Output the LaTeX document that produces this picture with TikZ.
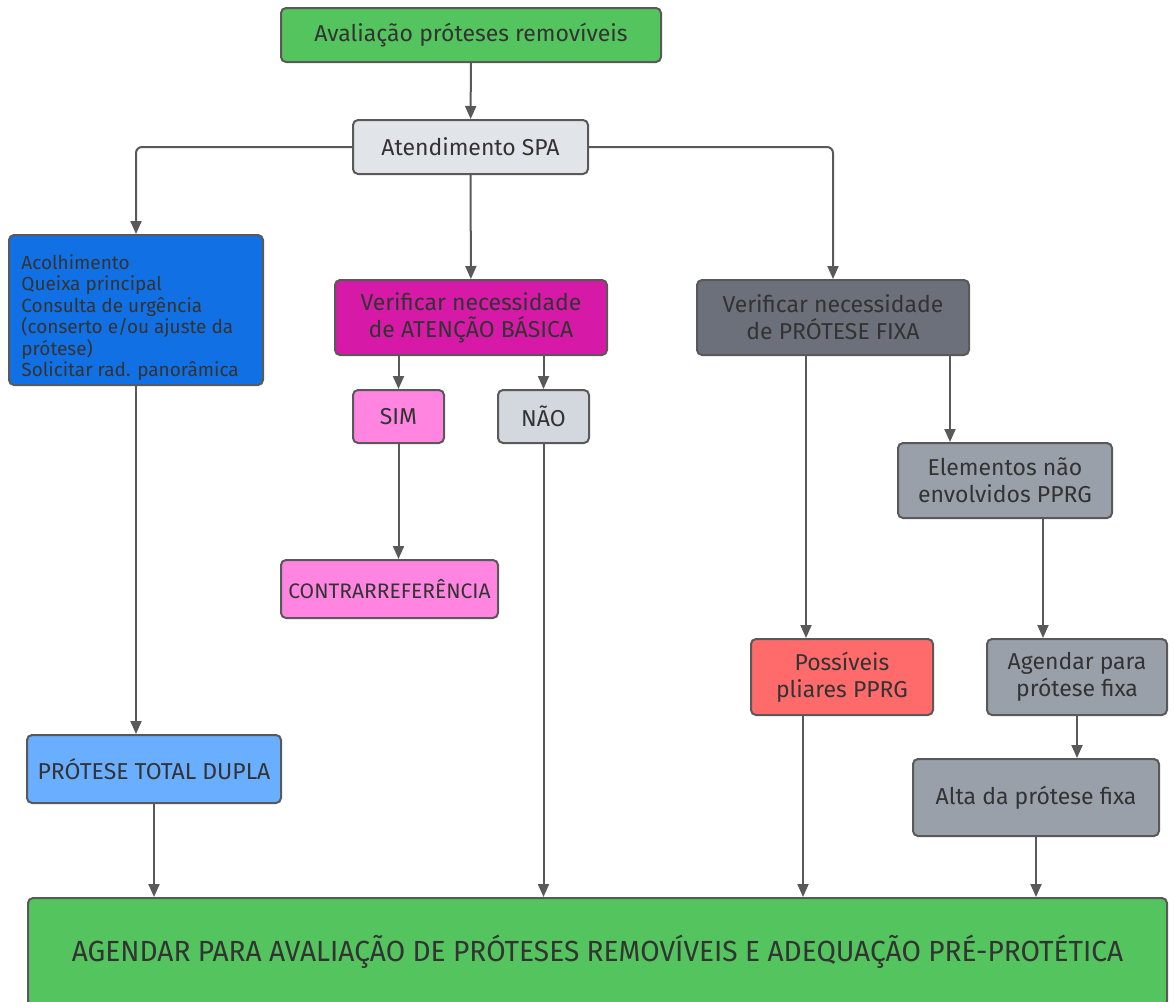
\documentclass[tikz,border=0pt]{standalone}
\usepackage{fontspec}
\setmainfont{Fira Sans}
\usepackage{tikz}
\usetikzlibrary{arrows.meta,calc}

\definecolor{linegray}{HTML}{595959}
\definecolor{txtgray}{HTML}{333333}
\definecolor{boxgreen}{HTML}{54C45E}
\definecolor{spagray}{HTML}{E1E4E9}
\definecolor{boxblue}{HTML}{1170E4}
\definecolor{boxmag}{HTML}{D61AA7}
\definecolor{darkgray}{HTML}{6B707B}
\definecolor{boxpink}{HTML}{FF85E0}
\definecolor{naogray}{HTML}{D3D7DE}
\definecolor{midgray}{HTML}{9AA0AA}
\definecolor{boxred}{HTML}{FF6B6B}
\definecolor{lightblue}{HTML}{6AAEFF}

\begin{document}
\begin{tikzpicture}[x=0.5pt,y=-0.5pt,
		box/.style={draw=linegray,line width=1pt,rounded corners=2.5pt,
			text=txtgray,align=center,inner sep=2pt,
			font=\fontsize{11.5}{13.5}\selectfont},
		arr/.style={draw=linegray,line width=1pt,
			-{Triangle[length=6.5pt,width=5.5pt]}}]
		\useasboundingbox (0,0) rectangle (1174,1002);
		\node[box,fill=boxgreen,minimum width=190pt,minimum height=27pt](top)at(471,35){Avaliação próteses removíveis};
		\node[box,fill=spagray,minimum width=117.5pt,minimum height=27pt](spa)at(470.5,147){Atendimento SPA};
		\node[box,fill=boxblue,minimum width=127pt,minimum height=75pt](ac)at(136,310){};
		\node[anchor=north west,align=left,text=txtgray,inner sep=0pt,
			font=\fontsize{9.5}{10.75}\selectfont](actxt)at(21,254){Acolhimento\\Queixa principal\\Consulta de urgência\\(conserto e/ou ajuste da\\prótese)\\Solicitar rad. panorâmica};
		\node[box,fill=boxmag,minimum width=136pt,minimum height=37.5pt](ab)at(471,317.5){Verificar necessidade\\de ATENÇÃO BÁSICA};
		\node[box,fill=darkgray,minimum width=136pt,minimum height=37.5pt](pf)at(833,317.5){Verificar necessidade\\de PRÓTESE FIXA};
		\node[box,fill=boxpink,minimum width=45.5pt,minimum height=26.5pt](sim)at(398.5,416.5){SIM};
		\node[box,fill=naogray,minimum width=45.5pt,minimum height=26.5pt](nao)at(543.5,416.5){NÃO};
		\node[box,fill=boxpink,minimum width=108.5pt,minimum height=29pt,
			font=\fontsize{10.5}{13}\selectfont](cr)at(389.5,589){CONTRARREFERÊNCIA};
		\node[box,fill=midgray,minimum width=107pt,minimum height=37.5pt](el)at(1005,480.5){Elementos não\\envolvidos PPRG};
		\node[box,fill=boxred,minimum width=91pt,minimum height=38pt](pos)at(842,677){Possíveis\\pliares PPRG};
		\node[box,fill=midgray,minimum width=90pt,minimum height=38pt](ag)at(1077,677){Agendar para\\prótese fixa};
		\node[box,fill=midgray,minimum width=123pt,minimum height=38.5pt](al)at(1036,797.5){Alta da prótese fixa};
		\node[box,fill=lightblue,minimum width=127pt,minimum height=34pt](ptd)at(154,769){PRÓTESE TOTAL DUPLA};
		\node[box,fill=boxgreen,minimum width=569.5pt,minimum height=54pt,
			font=\fontsize{13}{15}\selectfont](bot)at(597.5,952){\scalebox{1.08}[1.12]{AGENDAR PARA AVALIAÇÃO DE PRÓTESES REMOVÍVEIS E ADEQUAÇÃO PRÉ-PROTÉTICA}};

		\draw[arr](top)--(spa);
		\draw[arr,rounded corners=3pt](spa.west)-|(ac.north);
		\draw[arr](spa)--(ab);
		\draw[arr,rounded corners=3pt](spa.east)-|(pf.north);
		\draw[arr](ab.south-|sim.north)--(sim.north);
		\draw[arr](ab.south-|nao.north)--(nao.north);
		\draw[arr](sim.south)--(sim.south|-cr.north);
		\draw[arr](nao.south)--(nao.south|-bot.north);
		\draw[arr](ac.south)--(ac.south|-ptd.north);
		\draw[arr](ptd.south)--(ptd.south|-bot.north);
		\draw[arr]([xshift=-13.5pt]pf.south)--([xshift=-13.5pt]pf.south|-pos.north);
		\draw[arr]([xshift=-19.5pt]pos.south)--([xshift=-19.5pt]pos.south|-bot.north);
		\draw[arr]([xshift=58.5pt]pf.south)--([xshift=58.5pt]pf.south|-el.north);
		\draw[arr]([xshift=19pt]el.south)--([xshift=19pt]el.south|-ag.north);
		\draw[arr](ag.south)--(ag.south|-al.north);
		\draw[arr](al.south)--(al.south|-bot.north);
	\end{tikzpicture}
\end{document}
